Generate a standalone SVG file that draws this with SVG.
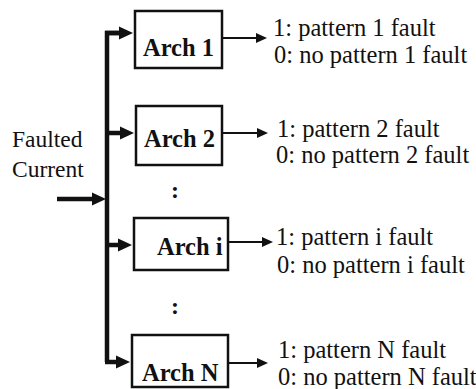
<svg xmlns="http://www.w3.org/2000/svg" width="476" height="389" viewBox="0 0 476 389">
<defs>
<style>
.box{fill:#fff;stroke:#111;stroke-width:2.5}
.bus{fill:none;stroke:#111;stroke-width:4.5}
.thin{fill:none;stroke:#111;stroke-width:2}
</style>
<marker id="big" markerUnits="userSpaceOnUse" markerWidth="15" markerHeight="15" refX="5" refY="7.5" orient="auto">
<path d="M0,1 L14,7.5 L0,14 Z" fill="#111"/>
</marker>
<marker id="small" markerUnits="userSpaceOnUse" markerWidth="12" markerHeight="12" refX="4" refY="6" orient="auto">
<path d="M0,1 L11,6 L0,11 Z" fill="#111"/>
</marker>
</defs>
<rect width="476" height="389" fill="#fff"/>
<g id="connectors">
<path class="bus" d="M107,362 V33 H122"/>
<line class="bus" x1="105" y1="33" x2="124" y2="33" marker-end="url(#big)"/>
<line class="bus" x1="107" y1="133" x2="125" y2="133" marker-end="url(#big)"/>
<line class="bus" x1="107" y1="245" x2="123" y2="245" marker-end="url(#big)"/>
<line class="bus" x1="105" y1="362" x2="121" y2="362" marker-end="url(#big)"/>
<line class="bus" x1="57" y1="199" x2="97" y2="199" marker-end="url(#big)"/>
<line class="thin" x1="223" y1="38" x2="260" y2="38" marker-end="url(#small)"/>
<line class="thin" x1="223" y1="133" x2="261" y2="133" marker-end="url(#small)"/>
<line class="thin" x1="229" y1="242" x2="266" y2="242" marker-end="url(#small)"/>
<line class="thin" x1="229" y1="363" x2="261" y2="363" marker-end="url(#small)"/>
</g>
<g id="input" font-family="Liberation Serif, Times New Roman, DejaVu Serif, serif" font-size="23.5" fill="#111">
<text x="12" y="147">Faulted</text>
<text x="12" y="177">Current</text>
</g>
<g id="arch1" font-family="Liberation Serif, Times New Roman, DejaVu Serif, serif" fill="#111">
<rect class="box" x="135" y="11" width="87" height="57"/>
<text x="143" y="56" font-size="24.5" font-weight="bold">Arch 1</text>
<text x="273" y="36" font-size="24.5">1: pattern 1 fault</text>
<text x="274" y="63" font-size="24.5">0: no pattern 1 fault</text>
</g>
<g id="arch2" font-family="Liberation Serif, Times New Roman, DejaVu Serif, serif" fill="#111">
<rect class="box" x="136" y="106" width="86" height="59"/>
<text x="144" y="147" font-size="24.5" font-weight="bold">Arch 2</text>
<text x="277" y="137" font-size="24.5">1: pattern 2 fault</text>
<text x="276" y="163" font-size="24.5">0: no pattern 2 fault</text>
</g>
<g id="dots1" font-family="Liberation Serif, Times New Roman, DejaVu Serif, serif" fill="#111"><text x="175" y="198" font-size="24" font-weight="bold" text-anchor="middle">:</text></g>
<g id="archi" font-family="Liberation Serif, Times New Roman, DejaVu Serif, serif" fill="#111">
<rect class="box" x="134" y="218" width="94" height="52"/>
<text x="157" y="255" font-size="24.5" font-weight="bold">Arch i</text>
<text x="276" y="245" font-size="24.5">1: pattern i fault</text>
<text x="277" y="273" font-size="24.5">0: no pattern i fault</text>
</g>
<g id="dots2" font-family="Liberation Serif, Times New Roman, DejaVu Serif, serif" fill="#111"><text x="175" y="314" font-size="24" font-weight="bold" text-anchor="middle">:</text></g>
<g id="archN" font-family="Liberation Serif, Times New Roman, DejaVu Serif, serif" fill="#111">
<rect class="box" x="132" y="335" width="96" height="52"/>
<text x="142" y="381" font-size="24.5" font-weight="bold">Arch N</text>
<text x="278" y="358" font-size="24.5">1: pattern N fault</text>
<text x="278" y="385" font-size="24.5">0: no pattern N fault</text>
</g>
</svg>
